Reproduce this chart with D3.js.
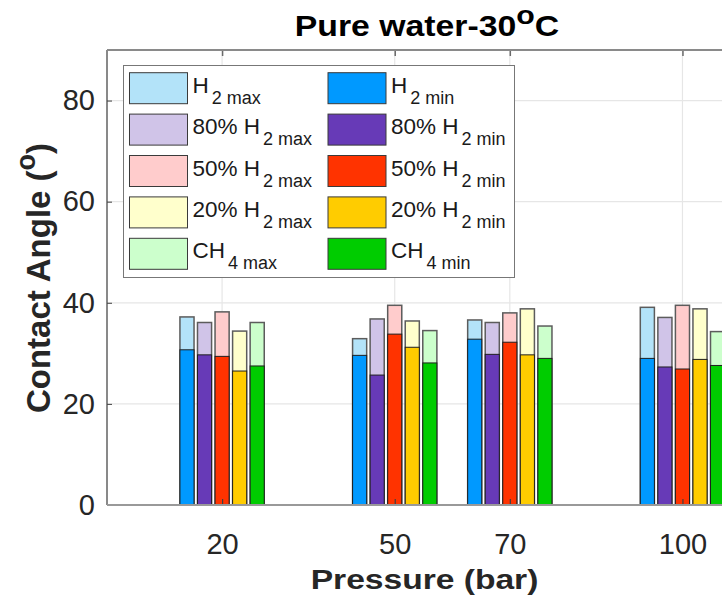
<!DOCTYPE html>
<html>
<head>
<meta charset="utf-8">
<script src="https://cdn.jsdelivr.net/npm/d3@7"></script>
<style>
  html, body { margin: 0; padding: 0; background: #fff; }
  svg { display: block; font-family: "Liberation Sans", Arial, sans-serif; }
</style>
</head>
<body>
<svg id="chart" width="722" height="597"></svg>
<script>
// Pressures (bar) at which the contact angles were measured
const pressures = [20, 50, 70, 100];
const xTickValues = [20, 50, 70, 100];
const yTickValues = [0, 20, 40, 60, 80];

// Contact angle (degrees), max and min per gas mixture, one value per pressure
const h2Max    = [37.2, 32.9, 36.6, 39.1];
const h2Min    = [30.7, 29.6, 32.8, 29.0];
const h2_80Max = [36.1, 36.8, 36.1, 37.1];
const h2_80Min = [29.7, 25.7, 29.8, 27.3];
const h2_50Max = [38.2, 39.5, 38.0, 39.5];
const h2_50Min = [29.4, 33.8, 32.2, 26.9];
const h2_20Max = [34.4, 36.4, 38.8, 38.8];
const h2_20Min = [26.5, 31.2, 29.7, 28.8];
const ch4Max   = [36.1, 34.5, 35.4, 34.3];
const ch4Min   = [27.5, 28.1, 29.0, 27.6];

const seriesPrefix = ["H", "80% H", "50% H", "20% H", "CH"];
const seriesSub    = ["2", "2", "2", "2", "4"];
const maxColors = ["#b3e3f9", "#d0c4e8", "#ffcccc", "#ffffcc", "#ccffcc"];
const minColors = ["#0099ff", "#673ab7", "#ff3300", "#ffcc00", "#00cc00"];

const series = [
  { max: h2Max,    min: h2Min },
  { max: h2_80Max, min: h2_80Min },
  { max: h2_50Max, min: h2_50Min },
  { max: h2_20Max, min: h2_20Min },
  { max: ch4Max,   min: ch4Min }
].map((s, i) => ({ ...s, i, prefix: seriesPrefix[i], sub: seriesSub[i],
  maxColor: maxColors[i], minColor: minColors[i] }));

const svg = d3.select("#chart");
const plotL = 107, plotR = 740, plotT = 50, plotB = 505;

const x = d3.scaleLinear().domain([0, 110]).range([plotL, plotR]);
const y = d3.scaleLinear().domain([0, 90]).range([plotB, plotT]);

// bar layout inside a pressure group (in pressure units)
const barStep = 3.05, barWidth = 2.45;
const bw = x(barWidth) - x(0);

// grid
const grid = svg.append("g");
grid.selectAll("line.gx").data(xTickValues).join("line")
  .attr("x1", d => x(d)).attr("x2", d => x(d))
  .attr("y1", plotT).attr("y2", plotB)
  .attr("stroke", "#e6e6e6").attr("stroke-width", 1.2);
grid.selectAll("line.gy").data(yTickValues.filter(d => d > 0)).join("line")
  .attr("x1", plotL).attr("x2", plotR)
  .attr("y1", d => y(d)).attr("y2", d => y(d))
  .attr("stroke", "#e6e6e6").attr("stroke-width", 1.2);

// bars: light bar up to max, dark bar up to min drawn over it
const bars = svg.append("g");
series.forEach(s => {
  const off = (s.i - 2) * barStep;
  const g = bars.append("g");
  g.selectAll("rect.mx").data(pressures).join("rect")
    .attr("x", (p) => x(p + off) - bw / 2)
    .attr("width", bw)
    .attr("y", (p, j) => y(s.max[j]))
    .attr("height", (p, j) => y(0) - y(s.max[j]))
    .attr("fill", s.maxColor)
    .attr("stroke", "#5c5c5c").attr("stroke-width", 1.5);
  g.selectAll("rect.mn").data(pressures).join("rect")
    .attr("x", (p) => x(p + off) - bw / 2)
    .attr("width", bw)
    .attr("y", (p, j) => y(s.min[j]))
    .attr("height", (p, j) => y(0) - y(s.min[j]))
    .attr("fill", s.minColor)
    .attr("stroke", "#1f1f1f").attr("stroke-width", 1);
});

// axes frame and ticks
const axes = svg.append("g");
const xBottom = d3.axisBottom(x).tickValues(xTickValues).tickSizeInner(-6).tickSizeOuter(0).tickPadding(28);
const gx = axes.append("g").attr("transform", `translate(0,${plotB})`).call(xBottom);
gx.select(".domain").remove();
gx.selectAll(".tick line").attr("stroke", "#404040").attr("stroke-width", 1.2);
gx.selectAll(".tick text").attr("font-size", 29).attr("fill", "#262626")
  .attr("font-family", "Liberation Sans, Arial, sans-serif");

const xTop = d3.axisTop(x).tickValues(xTickValues).tickSizeInner(-6).tickSizeOuter(0).tickFormat("");
const gxt = axes.append("g").attr("transform", `translate(0,${plotT})`).call(xTop);
gxt.select(".domain").remove();
gxt.selectAll(".tick line").attr("stroke", "#6a6a6a").attr("stroke-width", 1.5);

const yLeft = d3.axisLeft(y).tickValues(yTickValues).tickSizeInner(-5).tickSizeOuter(0).tickPadding(12);
const gy = axes.append("g").attr("transform", `translate(${plotL},0)`).call(yLeft);
gy.select(".domain").remove();
gy.selectAll(".tick line").attr("stroke", "#404040").attr("stroke-width", 1);
gy.selectAll(".tick text").attr("font-size", 29).attr("fill", "#262626")
  .attr("font-family", "Liberation Sans, Arial, sans-serif");

axes.append("line").attr("x1", plotL).attr("x2", plotL).attr("y1", plotT).attr("y2", plotB)
  .attr("stroke", "#4a4a4a").attr("stroke-width", 1.3);
axes.append("line").attr("x1", plotL).attr("x2", plotR).attr("y1", plotT).attr("y2", plotT)
  .attr("stroke", "#8a8a8a").attr("stroke-width", 2);
axes.append("line").attr("x1", plotL).attr("x2", plotR).attr("y1", plotB).attr("y2", plotB)
  .attr("stroke", "#999").attr("stroke-width", 2.2);

// legend
const legend = svg.append("g");
legend.append("rect").attr("x", 123.5).attr("y", 65.5).attr("width", 391).attr("height", 212)
  .attr("fill", "#fff").attr("stroke", "#777").attr("stroke-width", 1);

const rowH = 41.4, sw = 58, sh = 31;
const colX = [129.5, 328];
function legendEntry(cx, cy, color, prefix, sub) {
  legend.append("rect").attr("x", cx).attr("y", cy).attr("width", sw).attr("height", sh)
    .attr("fill", color).attr("stroke", "#3a3a3a").attr("stroke-width", 1);
  const t = legend.append("text").attr("x", cx + sw + 5).attr("y", cy + 20)
    .attr("font-size", 22.5).attr("fill", "#1a1a1a");
  t.append("tspan").text(prefix);
  t.append("tspan").attr("dx", 3).attr("dy", 11).attr("font-size", 18).text(sub);
}
series.forEach(s => {
  const cy = 72.7 + s.i * rowH;
  legendEntry(colX[0], cy, s.maxColor, s.prefix, s.sub + " max");
  legendEntry(colX[1], cy, s.minColor, s.prefix, s.sub + " min");
});

// title
const title = svg.append("g").attr("transform", "translate(427,36) scale(1.165,1)")
  .append("text").attr("text-anchor", "middle").attr("font-size", 29)
  .attr("font-weight", "bold").attr("fill", "#000");
title.append("tspan").text("Pure water-30");
title.append("tspan").attr("dy", -12).attr("font-size", 26).text("o");
title.append("tspan").attr("dy", 12).text("C");

// axis labels
svg.append("g").attr("transform", "translate(424.5,589) scale(1.2,1)")
  .append("text").attr("text-anchor", "middle").attr("font-size", 28)
  .attr("font-weight", "bold").attr("fill", "#262626").text("Pressure (bar)");

const yl = svg.append("g").attr("transform", "translate(50,278) rotate(-90)")
  .append("text").attr("text-anchor", "middle").attr("font-size", 33)
  .attr("font-weight", "bold").attr("fill", "#262626");
yl.append("tspan").text("Contact Angle (");
yl.append("tspan").attr("dy", -15).attr("font-size", 27).text("o");
yl.append("tspan").attr("dy", 15).text(")");
</script>
</body>
</html>
